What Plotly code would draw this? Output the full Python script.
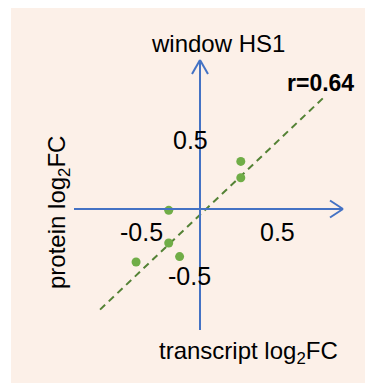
import plotly.graph_objects as go

# ---- data ----
transcript_fc = [0.30, 0.30, -0.23, -0.23, -0.15, -0.47]
protein_fc = [0.35, 0.23, -0.01, -0.25, -0.35, -0.39]
trend_x = [-0.735, 0.92]
trend_y = [-0.74, 0.83]
tick_text = ["0.5", "-0.5"]
title_text = "window HS1"
r_text = "r=0.64"
x_title = "transcript log<sub>2</sub>FC"
y_title = "protein log<sub>2</sub>FC"

W, H = 365, 383
ORIGIN_PX = (200, 209)
SCALE = 136.0  # pixels per unit

def px_x(p):
    return (p - ORIGIN_PX[0]) / SCALE

def px_y(p):
    return (ORIGIN_PX[1] - p) / SCALE

xr = [px_x(0), px_x(W)]
yr = [px_y(H), px_y(0)]

BLUE = "#4472C4"
GREEN = "#70AD47"
DGREEN = "#548235"
BG = "#FCF0E8"
FONT = "Liberation Sans, Arial, sans-serif"

fig = go.Figure()

fig.add_trace(go.Scatter(
    x=trend_x, y=trend_y, mode="lines",
    line=dict(color=DGREEN, width=2, dash="7px,5px"),
    hoverinfo="skip", showlegend=False))

fig.add_trace(go.Scatter(
    x=transcript_fc, y=protein_fc, mode="markers",
    marker=dict(color=GREEN, size=9, line=dict(width=0)),
    showlegend=False))

shapes = [
    dict(type="rect", xref="paper", yref="paper", x0=11 / W, x1=1, y0=0, y1=1 - 8 / H,
         fillcolor=BG, line=dict(width=0), layer="below"),
]
ax_line = dict(color=BLUE, width=2)
# horizontal axis
hx0, hx1 = px_x(74), px_x(343)
shapes.append(dict(type="line", x0=hx0, x1=hx1, y0=0, y1=0, line=ax_line))
shapes.append(dict(type="line", x0=hx1, x1=hx1 - 13 / SCALE, y0=0, y1=8.5 / SCALE, line=ax_line))
shapes.append(dict(type="line", x0=hx1, x1=hx1 - 13 / SCALE, y0=0, y1=-8.5 / SCALE, line=ax_line))
# vertical axis
vy0, vy1 = px_y(330), px_y(60)
shapes.append(dict(type="line", x0=0, x1=0, y0=vy0, y1=vy1, line=ax_line))
shapes.append(dict(type="line", x0=0, x1=-8 / SCALE, y0=vy1, y1=vy1 - 14 / SCALE, line=ax_line))
shapes.append(dict(type="line", x0=0, x1=8 / SCALE, y0=vy1, y1=vy1 - 14 / SCALE, line=ax_line))

def ann(text, cx, cy, size, bold=False, angle=0):
    return dict(text=f"<b>{text}</b>" if bold else text,
                x=px_x(cx), y=px_y(cy), xref="x", yref="y",
                showarrow=False, textangle=angle,
                font=dict(family=FONT, size=size, color="black"),
                xanchor="center", yanchor="middle")

annotations = [
    ann(title_text, 218, 43, 24),
    ann(r_text, 320, 83, 23, bold=True),
    ann(x_title, 248, 352, 24),
    ann(y_title, 58, 213, 24, angle=-90),
    ann(tick_text[0], 277, 232, 25),
    ann(tick_text[1], 141, 232, 25),
    ann(tick_text[0], 190, 140, 25),
    ann(tick_text[1], 189, 276, 25),
]

fig.update_layout(
    width=W, height=H, autosize=False,
    margin=dict(l=0, r=0, t=0, b=0, pad=0),
    paper_bgcolor="white", plot_bgcolor="rgba(0,0,0,0)",
    xaxis=dict(range=xr, visible=False, fixedrange=True),
    yaxis=dict(range=yr, visible=False, fixedrange=True),
    shapes=shapes, annotations=annotations,
    showlegend=False,
)

fig.write_html("out.html", config={"displayModeBar": False})
